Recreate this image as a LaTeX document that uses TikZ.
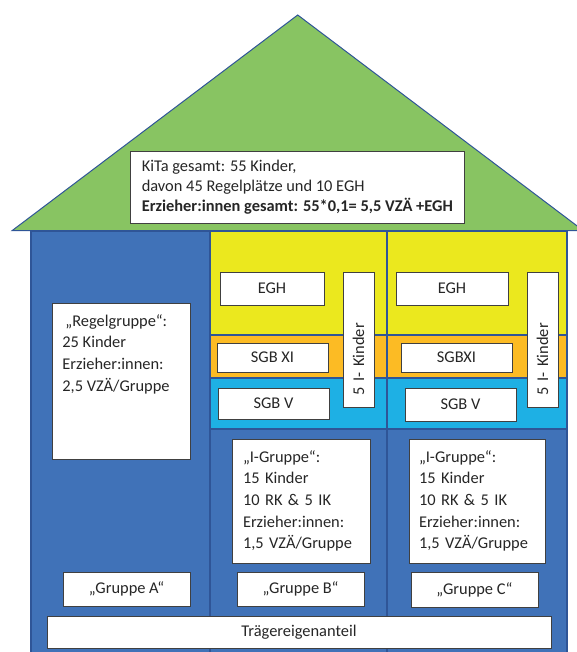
\documentclass[tikz,border=0pt]{standalone}
\usepackage{fontspec}
\setmainfont{Carlito}

\definecolor{roofgreen}{RGB}{136,196,98}
\definecolor{wallblue}{RGB}{64,114,184}
\definecolor{edgeblue}{RGB}{47,85,151}
\definecolor{bandyellow}{RGB}{235,232,30}
\definecolor{bandorange}{RGB}{252,187,36}
\definecolor{bandcyan}{RGB}{30,176,228}
\definecolor{boxline}{RGB}{64,64,64}
\definecolor{ink}{RGB}{38,38,38}

\tikzset{
  box/.style={draw=boxline, fill=white, line width=0.8pt, text=ink, inner sep=0pt,
    font=\fontsize{16.4}{21.7}\selectfont},
  band/.style={draw=edgeblue, line width=1.2pt},
}

\begin{document}
\begin{tikzpicture}[x=1pt,y=-1pt]
\useasboundingbox (0,0) rectangle (576,652);

\coordinate (apex) at (297.7,15);
\coordinate (eaveL) at (12,230.7);
\coordinate (eaveR) at (583.4,230.7);

\draw[draw=edgeblue, fill=roofgreen, line width=1pt] (eaveL) -- (apex) -- (eaveR) -- cycle;

\foreach \xa/\xb in {31/210, 210/387, 387/567}
  \draw[band, fill=wallblue] (\xa,231) rectangle (\xb,658);

\foreach \xa/\xb in {210/387, 387/567} {
  \draw[band, fill=bandyellow] (\xa,231) rectangle (\xb,335);
  \draw[band, fill=bandorange] (\xa,335) rectangle (\xb,378);
  \draw[band, fill=bandcyan] (\xa,378) rectangle (\xb,429);
}

\node[box, minimum width=333.3pt, minimum height=72pt, align=left,
  font=\fontsize{16.4}{20}\selectfont] (kita) at (297.35,187)
  {KiTa gesamt: 55 Kinder,\\davon 45 Regelplätze und 10 EGH\\
   \textbf{Erzieher:innen gesamt: 55*0,1= 5,5 VZÄ +EGH}};

\node[box, minimum width=104pt, minimum height=33pt] (eghB) at (272,288.5) {EGH};
\node[box, minimum width=112pt, minimum height=33pt] (eghC) at (452,288.5) {EGH};
\node[box, minimum width=111pt, minimum height=29pt] (sgbxiB) at (272.5,357.5) {SGB XI};
\node[box, minimum width=111pt, minimum height=29pt] (sgbxiC) at (456.5,357.5) {SGBXI};
\node[box, minimum width=111pt, minimum height=31pt] (sgbvB) at (273.5,403.5) {SGB V};
\node[box, minimum width=111pt, minimum height=33pt] (sgbvC) at (460.5,404.5) {SGB V};

\node[box, rotate=90, minimum height=31pt, text width=111pt, inner xsep=12pt, align=left]
  (ikB) at (358.5,339.5) {5 I- Kinder};
\node[box, rotate=90, minimum height=31pt, text width=111pt, inner xsep=12pt, align=left]
  (ikC) at (542.5,339.5) {5 I- Kinder};

\node[box, anchor=north west, inner xsep=10pt] (regel) at (52,303)
  {\parbox[t][156pt][t]{118pt}{\vspace*{11pt}\hspace*{3pt}„Regelgruppe“:\\25 Kinder\\
   Erzieher:innen:\\2,5 VZÄ/Gruppe}};

\node[box, text width=116pt, inner xsep=11pt, minimum height=124pt, align=left]
  (igrB) at (301,501)
  {„I-Gruppe“:\\15 Kinder\\10 RK \& 5 IK\\Erzieher:innen:\\1,5 VZÄ/Gruppe};
\node[box, text width=116pt, inner xsep=10pt, minimum height=124pt, align=left]
  (igrC) at (477,501)
  {„I-Gruppe“:\\15 Kinder\\10 RK \& 5 IK\\Erzieher:innen:\\1,5 VZÄ/Gruppe};

\node[box, minimum width=127pt, minimum height=34pt] (grA) at (126.5,589) {„Gruppe A“};
\node[box, minimum width=127pt, minimum height=34pt] (grB) at (300.5,589) {„Gruppe B“};
\node[box, minimum width=127pt, minimum height=35pt] (grC) at (474.5,589.5) {„Gruppe C“};

\node[box, minimum width=504pt, minimum height=32pt] (traeger) at (299,632) {Trägereigenanteil};
\end{tikzpicture}
\end{document}
